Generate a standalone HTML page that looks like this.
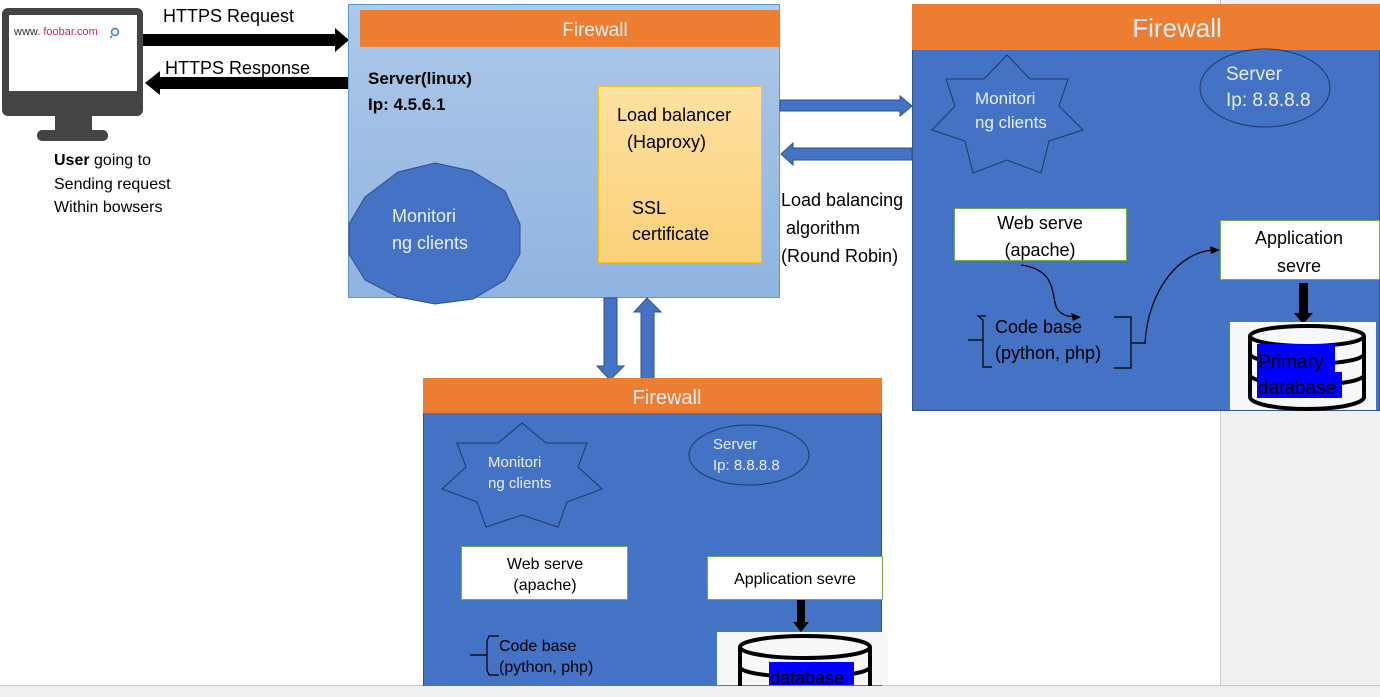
<!DOCTYPE html>
<html><head><meta charset="utf-8"><style>
html,body{margin:0;padding:0;background:#fff;width:1380px;height:697px;overflow:hidden}
svg{display:block}
text{font-family:"Liberation Sans",sans-serif}
</style></head><body>
<svg width="1380" height="697" viewBox="0 0 1380 697" xmlns="http://www.w3.org/2000/svg">
<defs>
<linearGradient id="sg" x1="0" y1="0" x2="0" y2="1"><stop offset="0" stop-color="#adc8e8"/><stop offset="1" stop-color="#90b4e0"/></linearGradient>
<linearGradient id="lg" x1="0" y1="0" x2="0" y2="1"><stop offset="0" stop-color="#fde0a0"/><stop offset="1" stop-color="#fbd27a"/></linearGradient>
</defs>
<!-- gray areas -->
<rect x="1220" y="0" width="160" height="697" fill="#f0f0f0"/>
<line x1="1220.5" y1="0" x2="1220.5" y2="685" stroke="#c8c8c8"/>
<rect x="0" y="685" width="1380" height="12" fill="#f0f0f0"/>
<line x1="0" y1="685.5" x2="1380" y2="685.5" stroke="#c8c8c8"/>

<!-- monitor -->
<rect x="2" y="8" width="141" height="108" rx="6" fill="#444"/>
<rect x="9" y="15" width="128" height="76" fill="#fff"/>
<rect x="55" y="115" width="37" height="17" fill="#444"/>
<rect x="37" y="130" width="71" height="11" rx="5" fill="#444"/>
<text x="14" y="35" font-size="11" fill="#333">www. <tspan fill="#d0245a">foobar.com</tspan></text>
<circle cx="115" cy="32" r="3.5" fill="none" stroke="#3a7bd5" stroke-width="1.5"/>
<line x1="112" y1="36" x2="110" y2="38" stroke="#3a7bd5" stroke-width="1.5"/>
<text x="54" y="165" font-size="16"><tspan font-weight="bold">User</tspan> going to</text>
<text x="54" y="189" font-size="16">Sending request</text>
<text x="54" y="212" font-size="16">Within bowsers</text>

<!-- https arrows -->
<polygon points="143,34 335,34 335,28 349,40 335,52 335,46 143,46" fill="#000"/>
<polygon points="348,77 160,77 160,71 145,83 160,95 160,89 348,89" fill="#000"/>
<text x="163" y="22" font-size="18">HTTPS Request</text>
<text x="165" y="74" font-size="18">HTTPS Response</text>

<!-- main server -->
<rect x="348.5" y="4.5" width="431" height="293" fill="url(#sg)" stroke="#5b9bd5"/>
<rect x="360" y="10" width="419" height="37" fill="#ed7d31"/>
<text x="595" y="36" font-size="19" fill="#f2f2f2" text-anchor="middle">Firewall</text>
<text x="368" y="84" font-size="17" font-weight="bold">Server(linux)</text>
<text x="368" y="110" font-size="17" font-weight="bold">Ip: 4.5.6.1</text>
<rect x="598.5" y="86.5" width="163" height="176" fill="url(#lg)" stroke="#ffc000"/>
<text x="617" y="121" font-size="18">Load balancer</text>
<text x="627" y="148" font-size="18">(Haproxy)</text>
<text x="632" y="214" font-size="18">SSL</text>
<text x="632" y="240" font-size="18">certificate</text>
<polygon points="435,163 472,171 505,191 520,224 520,254 505,280 473,299 435,304 398,297 365,280 349,254 349,224 365,197 398,172" fill="#4472c4" stroke="#2f4f8a"/>
<text x="392" y="222" font-size="18" fill="#e8eef8">Monitori</text>
<text x="392" y="249" font-size="18" fill="#e8eef8">ng clients</text>

<!-- horizontal blue arrows -->
<polygon points="780,100 900,100 900,96 912,106 900,116 900,111 780,111" fill="#4472c4" stroke="#2f528f"/>
<polygon points="912,148 793,148 793,143 781,154 793,165 793,160 912,160" fill="#4472c4" stroke="#2f528f"/>
<text x="781" y="206" font-size="18">Load balancing</text>
<text x="786" y="234" font-size="18">algorithm</text>
<text x="781" y="262" font-size="18">(Round Robin)</text>

<!-- vertical arrows -->
<polygon points="604,298 617,298 617,366 624,366 610,380 597,366 604,366" fill="#4472c4" stroke="#2f528f"/>
<polygon points="641,380 654,380 654,312 661,312 647,298 634,312 641,312" fill="#4472c4" stroke="#2f528f"/>

<!-- right server -->
<rect x="912.5" y="4.5" width="467" height="406" fill="#4472c4" stroke="#2f528f"/>
<rect x="912" y="4" width="468" height="46" fill="#ed7d31"/>
<text x="1177" y="37" font-size="26" fill="#e8eef8" text-anchor="middle">Firewall</text>
<polygon points="1007,55 1030,79 1068,79 1059,106 1083,130 1049,141 1041,173 1007,160 973,173 965,141 932,130 955,106 946,79 984,79" fill="#4472c4" stroke="#1f3864"/>
<text x="975" y="104" font-size="17" fill="#e8eef8">Monitori</text>
<text x="975" y="128" font-size="17" fill="#e8eef8">ng clients</text>
<ellipse cx="1265" cy="88" rx="65" ry="39" fill="none" stroke="#1f3864"/>
<text x="1226" y="80" font-size="19" fill="#e8eef8">Server</text>
<text x="1226" y="106" font-size="19" fill="#e8eef8">Ip: 8.8.8.8</text>
<rect x="954.5" y="208.5" width="172" height="52" fill="#fff" stroke="#70ad47"/>
<text x="1040" y="229" font-size="18" text-anchor="middle">Web serve</text>
<text x="1040" y="256" font-size="18" text-anchor="middle">(apache)</text>
<rect x="1220.5" y="220.5" width="159" height="59" fill="#fff" stroke="#70ad47"/>
<text x="1299" y="244" font-size="18" text-anchor="middle">Application</text>
<text x="1299" y="272" font-size="18" text-anchor="middle">sevre</text>
<path d="M1021,265 C1060,270 1050,300 1058,310 C1065,318 1072,316 1078,317" fill="none" stroke="#000" stroke-width="1.2"/>
<polygon points="1081,317 1071,313 1073,321" fill="#000"/>
<path d="M1145,343 C1148,290 1180,250 1216,250" fill="none" stroke="#000" stroke-width="1.2"/>
<polygon points="1220,250 1210,246 1211,254" fill="#000"/>
<path d="M986,316 L978,316 L983,320 L983,340 L968,340 M983,340 L983,367 L992,367" fill="none" stroke="#000" stroke-width="1.2"/>
<path d="M1114,317 L1131,317 L1131,343 L1146,343 M1131,343 L1131,368 L1114,368" fill="none" stroke="#000" stroke-width="1.2"/>
<text x="995" y="333" font-size="18">Code base</text>
<text x="995" y="359" font-size="18">(python, php)</text>
<rect x="1299" y="283" width="9" height="30" fill="#000"/>
<polygon points="1294,313 1313,313 1303,324" fill="#000"/>
<rect x="1230" y="322" width="146" height="88" fill="#f7f7f7"/>
<path d="M1250,336 L1250,397 A57,12 0 0 0 1364,397 L1364,336" fill="none" stroke="#000" stroke-width="4"/>
<ellipse cx="1307" cy="336" rx="57" ry="10" fill="#f7f7f7" stroke="#000" stroke-width="4"/>
<path d="M1250,354 A57,10 0 0 0 1364,354 M1250,375 A57,10 0 0 0 1364,375" fill="none" stroke="#000" stroke-width="4"/>
<rect x="1257" y="344" width="78" height="28" fill="#0000ff"/>
<rect x="1257" y="372" width="85" height="26" fill="#0000ff"/>
<text x="1258" y="368" font-size="19">Primary</text>
<text x="1258" y="394" font-size="19">database</text>

<!-- bottom server -->
<rect x="423.5" y="378.5" width="458" height="318" fill="#4472c4" stroke="#2f528f"/>
<rect x="423" y="378" width="459" height="35" fill="#ed7d31"/>
<text x="667" y="404" font-size="20" fill="#e8eef8" text-anchor="middle">Firewall</text>
<polygon points="522,423 546,443 587,443 578,467 602,489 567,502 558,527 522,515 486,527 477,502 442,489 466,467 457,443 498,443" fill="#4472c4" stroke="#1f3864"/>
<text x="488" y="467" font-size="15" fill="#e8eef8">Monitori</text>
<text x="488" y="488" font-size="15" fill="#e8eef8">ng clients</text>
<ellipse cx="749" cy="455" rx="60" ry="30" fill="none" stroke="#1f3864"/>
<text x="713" y="449" font-size="15" fill="#e8eef8">Server</text>
<text x="713" y="470" font-size="15" fill="#e8eef8">Ip: 8.8.8.8</text>
<rect x="461.5" y="546.5" width="166" height="53" fill="#fff" stroke="#70ad47"/>
<text x="545" y="569" font-size="16" text-anchor="middle">Web serve</text>
<text x="545" y="590" font-size="16" text-anchor="middle">(apache)</text>
<rect x="707.5" y="556.5" width="175" height="43" fill="#fff" stroke="#70ad47"/>
<text x="795" y="584" font-size="16" text-anchor="middle">Application sevre</text>
<path d="M499,636 L489,636 L487,641 L487,655 L470,655 M487,655 L487,670 L489,675 L499,675" fill="none" stroke="#000" stroke-width="1.2"/>
<text x="499" y="651" font-size="16">Code base</text>
<text x="499" y="672" font-size="16">(python, php)</text>
<rect x="797" y="600" width="8" height="22" fill="#000"/>
<polygon points="793,622 809,622 801,632" fill="#000"/>
<rect x="717" y="632" width="171" height="53" fill="#f7f7f7"/>
<path d="M740,647 L740,690 M870,647 L870,690" fill="none" stroke="#000" stroke-width="4"/>
<ellipse cx="805" cy="647" rx="65" ry="11" fill="#f7f7f7" stroke="#000" stroke-width="4"/>
<path d="M740,667 A65,10 0 0 0 870,667" fill="none" stroke="#000" stroke-width="4"/>
<rect x="769" y="662" width="85" height="23" fill="#0000ff"/>
<text x="770" y="684" font-size="18">database</text>
<rect x="0" y="686" width="1380" height="11" fill="#f0f0f0"/>
</svg>
</body></html>
